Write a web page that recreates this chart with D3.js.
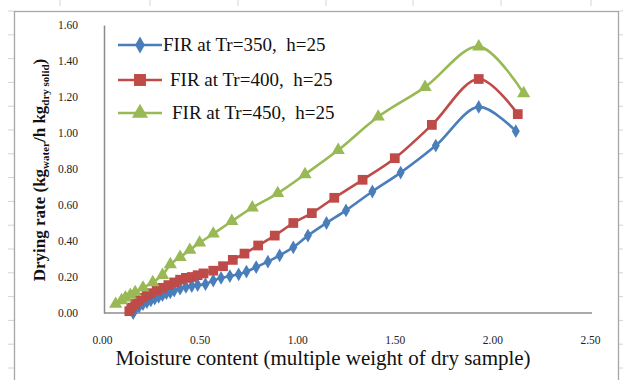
<!DOCTYPE html>
<html><head><meta charset="utf-8">
<script src="https://cdn.jsdelivr.net/npm/d3@7"></script>
<style>
body{margin:0;background:#fff;}
svg{display:block;}
</style></head>
<body><svg id="c" width="623" height="380"></svg>
<script>
// ---- data ----
const xTicks = [0, 0.5, 1.0, 1.5, 2.0, 2.5];
const yTicks = [0, 0.2, 0.4, 0.6, 0.8, 1.0, 1.2, 1.4, 1.6];
const seriesNames = ["FIR at Tr=350,  h=25", "FIR at Tr=400,  h=25", "FIR at Tr=450,  h=25"];

const x350 = [0.16,0.17,0.19,0.21,0.23,0.25,0.27,0.29,0.31,0.33,0.35,0.37,0.40,0.43,0.46,0.49,0.53,0.57,0.61,0.655,0.70,0.74,0.79,0.85,0.91,0.98,1.055,1.15,1.25,1.385,1.53,1.71,1.93,2.12];
const y350 = [0.00,0.02,0.035,0.05,0.06,0.07,0.08,0.09,0.10,0.11,0.115,0.125,0.135,0.145,0.15,0.155,0.16,0.18,0.195,0.205,0.215,0.23,0.255,0.285,0.32,0.365,0.43,0.50,0.57,0.675,0.78,0.93,1.145,1.01];

const x400 = [0.14,0.15,0.17,0.19,0.21,0.23,0.25,0.28,0.31,0.34,0.37,0.40,0.43,0.46,0.49,0.52,0.57,0.62,0.67,0.73,0.80,0.885,0.98,1.075,1.19,1.335,1.50,1.69,1.93,2.13];
const y400 = [0.01,0.03,0.05,0.07,0.085,0.10,0.11,0.125,0.14,0.155,0.17,0.185,0.195,0.20,0.21,0.22,0.235,0.26,0.295,0.33,0.375,0.43,0.50,0.555,0.64,0.74,0.86,1.045,1.30,1.105];

const x450 = [0.07,0.10,0.12,0.145,0.17,0.21,0.26,0.31,0.35,0.40,0.45,0.50,0.57,0.665,0.77,0.90,1.04,1.21,1.415,1.655,1.93,2.16];
const y450 = [0.05,0.07,0.085,0.10,0.115,0.14,0.17,0.21,0.27,0.31,0.35,0.39,0.44,0.51,0.585,0.665,0.77,0.905,1.09,1.255,1.48,1.22];

const colors = ["#4A7EBB", "#BE4B48", "#98B954"];
const series = [
  {name: seriesNames[0], xs: x350, ys: y350, color: colors[0], sym: "diamond"},
  {name: seriesNames[1], xs: x400, ys: y400, color: colors[1], sym: "square"},
  {name: seriesNames[2], xs: x450, ys: y450, color: colors[2], sym: "triangle"}
];

// ---- layout ----
const svg = d3.select("#c");
const serif = "'Liberation Serif','Times New Roman',serif";
const x = d3.scaleLinear().domain([0, 2.5]).range([102, 590]);
const y = d3.scaleLinear().domain([0, 1.6]).range([313, 25]);

// faint spreadsheet marks outside the frame
const gmarks = svg.append("g").attr("stroke", "#d4d4d4").attr("stroke-width", 1);
[60,150,238,326,413,501,591].forEach(v => gmarks.append("line").attr("x1", v).attr("x2", v).attr("y1", 0).attr("y2", 6));
d3.range(0, 16).forEach(i => {
  const v = 11 + i * 23.8;
  gmarks.append("line").attr("x1", 8).attr("x2", 14).attr("y1", v).attr("y2", v);
  gmarks.append("line").attr("x1", 619).attr("x2", 623).attr("y1", v).attr("y2", v);
});

// frame
svg.append("rect").attr("x", 14.5).attr("y", 11.5).attr("width", 604).attr("height", 380)
  .attr("fill", "none").attr("stroke", "#a6a6a6").attr("stroke-width", 1.3);

// axes
const fmt = d3.format(".2f");
const yAxis = svg.append("g").attr("transform", "translate(104,0)")
  .call(d3.axisLeft(y).tickValues(yTicks).tickFormat(fmt).tickSize(0).tickPadding(26));
yAxis.select(".domain").attr("stroke", "#8c8c8c").attr("stroke-width", 1.5);
yAxis.selectAll("text").attr("font-family", serif).attr("font-size", 11.5).attr("fill", "#222");

const xAxis = svg.append("g").attr("transform", "translate(0,313)")
  .call(d3.axisBottom(x).tickValues(xTicks).tickFormat(fmt).tickSize(0).tickPadding(23));
xAxis.select(".domain").attr("stroke", "#8c8c8c").attr("stroke-width", 1.5).attr("d", "M104,0H592");
xAxis.selectAll("text").attr("font-family", serif).attr("font-size", 11.5).attr("fill", "#222");

// lines
const line = d3.line().x(d => x(d[0])).y(d => y(d[1])).curve(d3.curveCatmullRom.alpha(0.5));
const symType = {diamond: d3.symbolDiamond, square: d3.symbolSquare, triangle: d3.symbolTriangle};
const symSize = {diamond: 55, square: 95, triangle: 75};

series.forEach(s => {
  const pts = s.xs.map((v, i) => [v, s.ys[i]]);
  svg.append("path").datum(pts).attr("d", line).attr("fill", "none")
    .attr("stroke", s.color).attr("stroke-width", 2.6);
  svg.append("g").selectAll("path").data(pts).join("path")
    .attr("transform", d => `translate(${x(d[0])},${y(d[1])})`)
    .attr("d", d3.symbol().type(symType[s.sym]).size(symSize[s.sym]))
    .attr("fill", s.color);
});

// legend
const legRows = [45, 80, 113];
const legTextX = [163, 170, 172];
series.forEach((s, i) => {
  const g = svg.append("g");
  g.append("line").attr("x1", 118).attr("x2", 162).attr("y1", legRows[i]).attr("y2", legRows[i])
    .attr("stroke", s.color).attr("stroke-width", 2.6);
  g.append("path").attr("transform", `translate(140,${legRows[i]})`)
    .attr("d", d3.symbol().type(symType[s.sym]).size(symSize[s.sym] * 1.5)).attr("fill", s.color);
  g.append("text").attr("x", legTextX[i]).attr("y", legRows[i] + 6)
    .style("white-space", "pre")
    .attr("font-family", serif).attr("font-size", 19).attr("fill", "#111").text(s.name);
});

// x title
svg.append("text").attr("x", 323).attr("y", 365).attr("text-anchor", "middle")
  .attr("font-family", serif).attr("font-size", 21).attr("fill", "#111")
  .text("Moisture content (multiple weight of dry sample)");

// y title
const yt = svg.append("text").attr("transform", "translate(45,170) rotate(-90)")
  .attr("text-anchor", "middle").attr("font-family", serif).attr("font-size", 17)
  .attr("font-weight", "bold").attr("fill", "#111");
yt.append("tspan").text("Drying rate (kg");
yt.append("tspan").attr("font-size", 11).attr("dy", 4).text("water");
yt.append("tspan").attr("dy", -4).text("/h kg");
yt.append("tspan").attr("font-size", 11).attr("dy", 4).text("dry solid");
yt.append("tspan").attr("dy", -4).text(")");
</script></body></html>
